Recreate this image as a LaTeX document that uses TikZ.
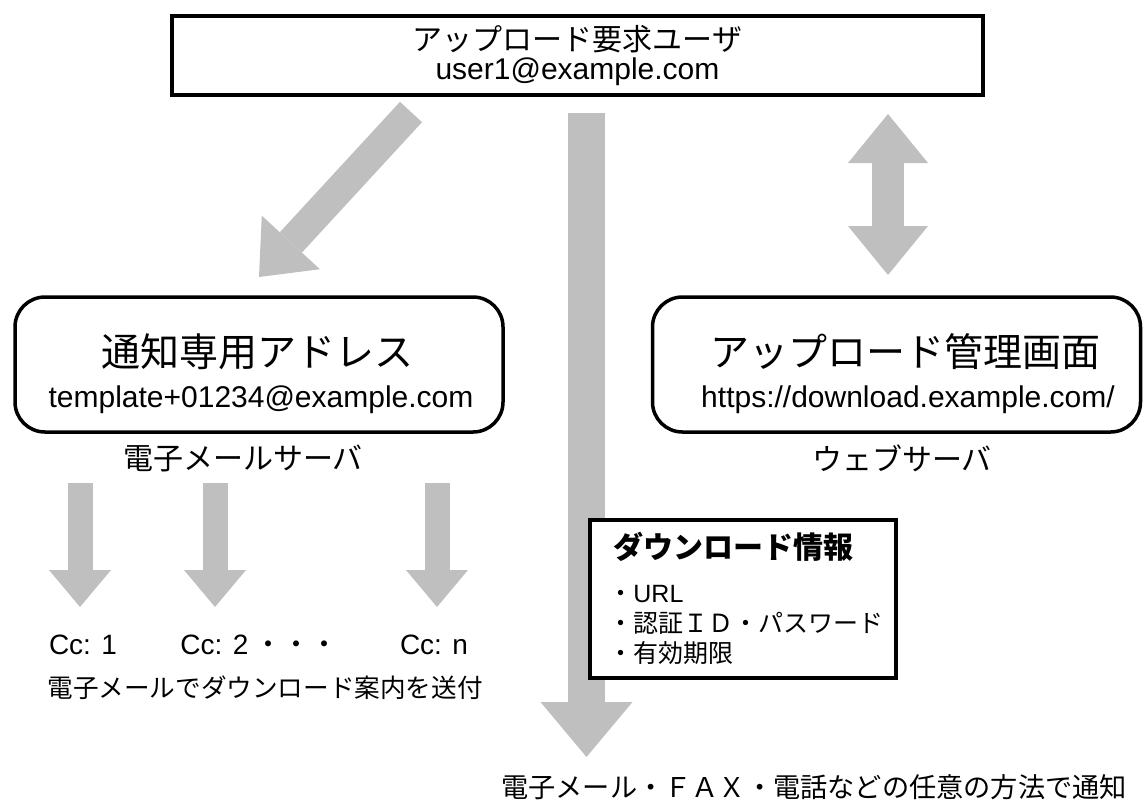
\documentclass[tikz,border=0pt]{standalone}
\usepackage{fontspec}
\setmainfont{Noto Sans CJK JP}
\newfontfamily\lat{Liberation Sans}
\usetikzlibrary{arrows.meta}

\begin{document}
\begin{tikzpicture}[x=0.5pt,y=-0.5pt,
	kader/.style={draw,line width=2pt,minimum width=405.5pt,minimum height=39.5pt,align=center,font=\fontsize{15pt}{14.5pt}\selectfont},
	rkader/.style={draw,line width=1.75pt,rounded corners=15pt,minimum width=244pt,minimum height=67.5pt},
	tekst/.style={inner sep=0pt,font=\fontsize{#1}{#1}\selectfont},
	fatarrow/.style n args={3}{draw=black!25,line width=#1,-{Triangle[length=#2,width=#3,line width=0pt]}},
	fatboth/.style n args={3}{draw=black!25,line width=#1,{Triangle[length=#2,width=#3,line width=0pt]}-{Triangle[length=#2,width=#3,line width=0pt]}}]
		\useasboundingbox (0,0) rectangle (1145,800);
		\node[kader] (user) at (577.5,55.5) {アップロード要求ユーザ\\{\lat user1@example.com}};
		\node[rkader] (mail) at (259,364.5) {};
		\node[rkader] (web) at (896.5,364.5) {};
		\node[tekst=19.5pt] (mailtitle) at (257,352) {通知専用アドレス};
		\node[tekst=15pt] (mailaddr) at (261,400) {\lat template+01234@example.com};
		\node[tekst=19.5pt] (webtitle) at (905,352) {アップロード管理画面};
		\node[tekst=15pt] (weburl) at (908,400) {\lat https://download.example.com/};
		\node[tekst=15pt] (mailsrv) at (243,458) {電子メールサーバ};
		\node[tekst=15pt] (websrv) at (902,458) {ウェブサーバ};
		\coordinate (d1) at (411,112);
		\coordinate (d2) at (259,277);
		\draw[fatarrow={15pt}{23.5pt}{39.5pt}] (d1) -- (d2);
		\coordinate (m1) at (586.5,113);
		\coordinate (m2) at (586.5,757);
		\draw[fatarrow={18.5pt}{27.5pt}{46pt}] (m1) -- (m2);
		\coordinate (w1) at (888,114);
		\coordinate (w2) at (888,275);
		\draw[fatboth={16pt}{24.5pt}{40pt}] (w1) -- (w2);
		\foreach \x [count=\i] in {80,215,437} {
			\coordinate (s\i) at (\x,483);
			\coordinate (t\i) at (\x,607);
			\draw[fatarrow={12.5pt}{18.5pt}{31pt}] (s\i) -- (t\i);
		}
		\node[tekst=14pt] (cc1) at (83,645) {\lat Cc: 1};
		\node[tekst=14pt,anchor=west] (cc2) at (180,645) {{\lat Cc: 2} ・・・};
		\node[tekst=14pt] (ccn) at (434,645) {\lat Cc: n};
		\node[tekst=12.8pt] (send) at (265,688) {電子メールでダウンロード案内を送付};
		\node[draw,fill=white,line width=1.75pt,minimum width=153pt,minimum height=79pt] (info) at (743,599) {};
		\node[inner sep=0pt,anchor=west,font=\fontsize{15pt}{15pt}\selectfont\bfseries] (infotitle) at (613,547) {ダウンロード情報};
		\node[inner sep=0pt,anchor=west,align=left,font=\fontsize{12.5pt}{15pt}\selectfont] (infolist) at (608,625) {・{\lat URL}\\・認証ＩＤ・パスワード\\・有効期限};
		\node[tekst=13.6pt] (notify) at (814,787) {電子メール・ＦＡＸ・電話などの任意の方法で通知};
	\end{tikzpicture}
\end{document}
